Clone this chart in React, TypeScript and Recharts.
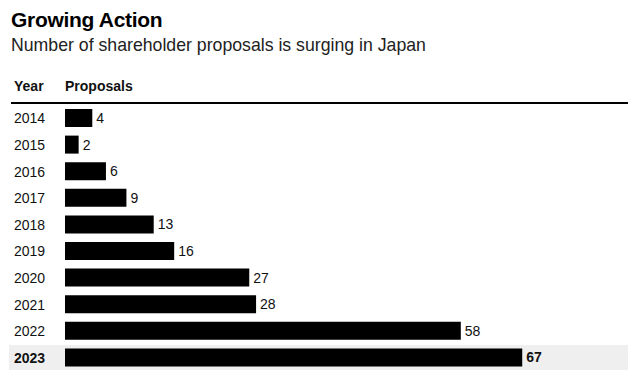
import React from 'react'
import { BarChart, Bar, XAxis, YAxis, LabelList } from 'recharts'

const years = ['2014', '2015', '2016', '2017', '2018', '2019', '2020', '2021', '2022', '2023']
const proposals = [4, 2, 6, 9, 13, 16, 27, 28, 58, 67]
const highlightYear = '2023'

const data = years.map((year, i) => ({ year, proposals: proposals[i] }))

const font = '"Liberation Sans", Arial, Helvetica, sans-serif'

const YearTick = (props: any) => {
  const { y, payload } = props
  const bold = payload.value === highlightYear
  return (
    <text x={14} y={y} dy={5} textAnchor="start" fontSize={14} fontFamily={font} fill="#111" fontWeight={bold ? 700 : 400}>
      {payload.value}
    </text>
  )
}

const ValueLabel = (props: any) => {
  const { x, y, width, height, value, index } = props
  const bold = years[index] === highlightYear
  return (
    <text x={x + width + 4} y={y + height / 2} dy={5} fontSize={14} fontFamily={font} fill="#111" fontWeight={bold ? 700 : 400}>
      {value}
    </text>
  )
}

const RowBackground = (props: any) => {
  const { x, y, width, height, index } = props
  if (years[index] !== highlightYear) return <g />
  return <rect x={x - 56} y={y - 3.5} width={width + 56} height={height + 7} fill="#efefef" />
}

export default function App() {
  return (
    <div style={{ position: 'absolute', left: 0, top: 0, width: 634, height: 378, background: '#fff', fontFamily: font }}>
      <div style={{ position: 'absolute', left: 11, top: 8, fontSize: 21, fontWeight: 700, color: '#000', letterSpacing: -0.3 }}>
        Growing Action
      </div>
      <div style={{ position: 'absolute', left: 11, top: 35, fontSize: 17.7, color: '#222' }}>
        Number of shareholder proposals is surging in Japan
      </div>
      <div style={{ position: 'absolute', left: 14, top: 78, fontSize: 14, fontWeight: 700, color: '#111' }}>Year</div>
      <div style={{ position: 'absolute', left: 65, top: 78, fontSize: 14, fontWeight: 700, color: '#111' }}>Proposals</div>
      <div style={{ position: 'absolute', left: 11, top: 102, width: 617, height: 2, background: '#000' }} />
      <div style={{ position: 'absolute', left: 0, top: 0 }}>
        <BarChart
          width={634}
          height={378}
          data={data}
          layout="vertical"
          margin={{ top: 105, right: 6, bottom: 7, left: 0 }}
        >
          <XAxis type="number" hide domain={[0, 82.5]} />
          <YAxis
            type="category"
            dataKey="year"
            width={65}
            axisLine={false}
            tickLine={false}
            tick={<YearTick />}
            interval={0}
          />
          <Bar
            dataKey="proposals"
            fill="#000"
            barSize={18}
            background={<RowBackground />}
            isAnimationActive={false}
          >
            <LabelList dataKey="proposals" content={<ValueLabel />} />
          </Bar>
        </BarChart>
      </div>
    </div>
  )
}
